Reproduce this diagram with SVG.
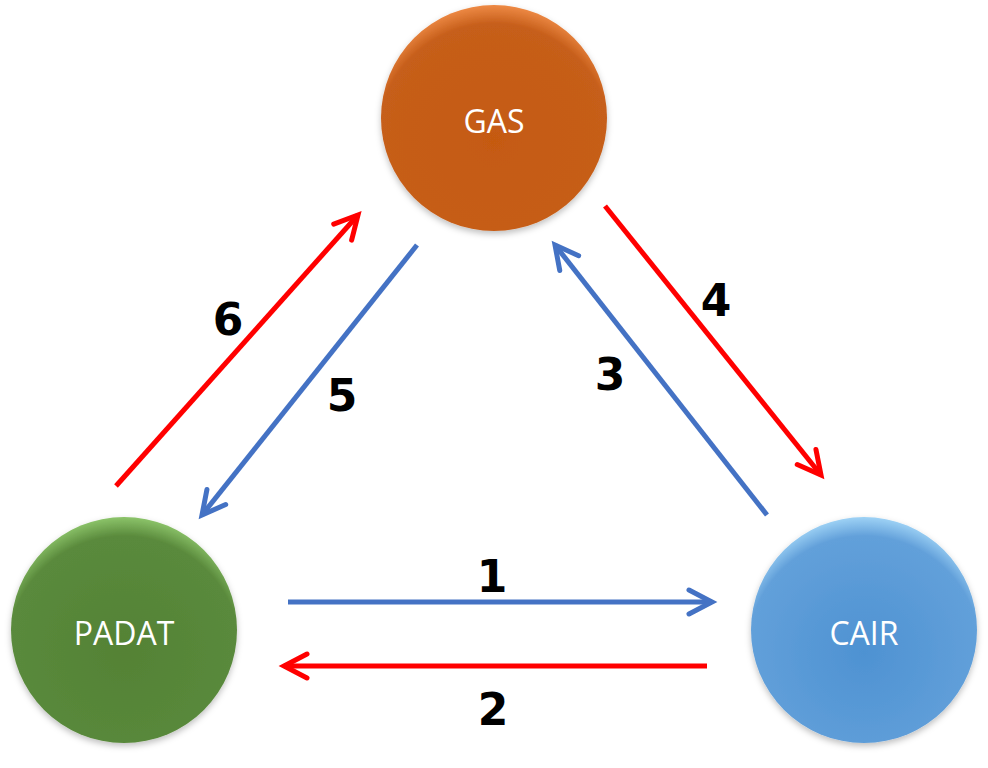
<svg xmlns="http://www.w3.org/2000/svg" width="988" height="768" viewBox="0 0 988 768">
<defs>
<style>
.lbl{font-family:"Open Sans","Noto Sans","Liberation Sans",sans-serif;font-size:32px;fill:#ffffff;text-anchor:middle;dominant-baseline:central}
.num{font-family:"DejaVu Sans","Liberation Sans",sans-serif;font-weight:bold;font-size:44px;fill:#000000;text-anchor:middle}
.blue{stroke:#4472C4;stroke-width:5;fill:none}
.red{stroke:#FF0000;stroke-width:5;fill:none}
</style>
<marker id="hb" markerUnits="userSpaceOnUse" viewBox="-30 -20 40 40" markerWidth="40" markerHeight="40" refX="0" refY="0" orient="auto">
<path d="M-23,-12 L0,0 L-23,12" fill="none" stroke="#4472C4" stroke-width="5" stroke-linecap="round" stroke-linejoin="miter"/>
</marker>
<marker id="hr" markerUnits="userSpaceOnUse" viewBox="-30 -20 40 40" markerWidth="40" markerHeight="40" refX="0" refY="0" orient="auto">
<path d="M-23,-12 L0,0 L-23,12" fill="none" stroke="#FF0000" stroke-width="5" stroke-linecap="round" stroke-linejoin="miter"/>
</marker>
<radialGradient id="gOrange" cx="0.5" cy="0.6" r="0.6">
<stop offset="0" stop-color="#C55A11"/>
<stop offset="0.86" stop-color="#C65E1A"/>
<stop offset="1" stop-color="#EE8A45"/>
</radialGradient>
<radialGradient id="gGreen" cx="0.5" cy="0.6" r="0.6">
<stop offset="0" stop-color="#548235"/>
<stop offset="0.86" stop-color="#5A8A3C"/>
<stop offset="1" stop-color="#8CC46A"/>
</radialGradient>
<radialGradient id="gBlue" cx="0.5" cy="0.6" r="0.6">
<stop offset="0" stop-color="#4E92D2"/>
<stop offset="0.86" stop-color="#62A0DA"/>
<stop offset="1" stop-color="#9ED2F5"/>
</radialGradient>
<filter id="sh" x="-20%" y="-20%" width="140%" height="140%">
<feDropShadow dx="0" dy="3" stdDeviation="3" flood-color="#000" flood-opacity="0.25"/>
</filter>
</defs>
<rect width="988" height="768" fill="#ffffff"/>
<g id="node-gas">
<circle cx="494" cy="118" r="113" fill="url(#gOrange)" filter="url(#sh)"/>
<text class="lbl" x="494" y="120">GAS</text>
</g>
<g id="node-padat">
<circle cx="124" cy="630" r="113" fill="url(#gGreen)" filter="url(#sh)"/>
<text class="lbl" x="124" y="632">PADAT</text>
</g>
<g id="node-cair">
<circle cx="864" cy="630" r="113" fill="url(#gBlue)" filter="url(#sh)"/>
<text class="lbl" x="864" y="632">CAIR</text>
</g>
<g id="connectors">
<line class="blue" x1="288" y1="602" x2="712" y2="602" marker-end="url(#hb)"/>
<line class="red" x1="707" y1="666" x2="284" y2="666" marker-end="url(#hr)"/>
<line class="blue" x1="767" y1="515" x2="555" y2="245" marker-end="url(#hb)"/>
<line class="red" x1="605" y1="206" x2="821" y2="475" marker-end="url(#hr)"/>
<line class="blue" x1="417" y1="245" x2="202" y2="515" marker-end="url(#hb)"/>
<line class="red" x1="116" y1="486" x2="358" y2="215" marker-end="url(#hr)"/>
</g>
<g id="labels">
<text class="num" x="492" y="592">1</text>
<text class="num" x="493" y="725">2</text>
<text class="num" x="610" y="390">3</text>
<text class="num" x="716" y="316">4</text>
<text class="num" x="342" y="411">5</text>
<text class="num" x="228" y="335">6</text>
</g>
</svg>
